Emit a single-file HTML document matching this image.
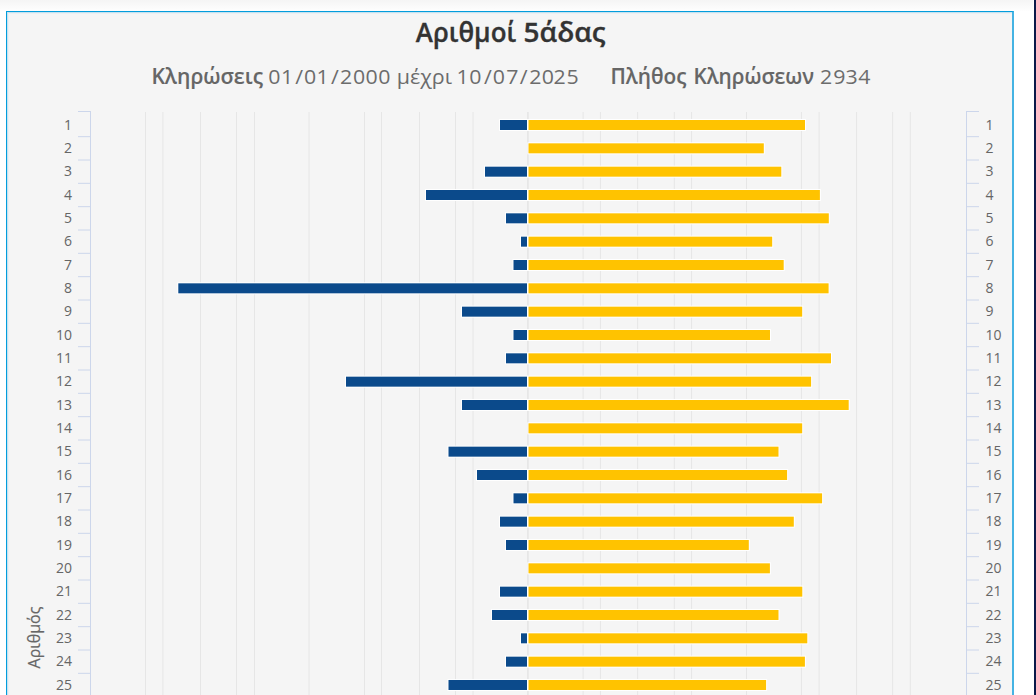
<!DOCTYPE html>
<html><head><meta charset="utf-8"><title>Αριθμοί 5άδας</title>
<style>
html,body{margin:0;padding:0;}
body{width:1036px;height:695px;overflow:hidden;background:#fff;position:relative;}
.topg{position:absolute;left:0;top:0;width:1033px;height:11px;background:linear-gradient(#f5f5f5,#fefefe);}
.navy{position:absolute;left:1034px;top:0;width:2px;height:695px;background:#0a1a4a;}
.box{position:absolute;left:6px;top:11px;width:1005px;height:700px;border:1px solid #029ddc;border-right:2px solid #45b3e3;border-bottom:0;background:#f5f5f5;box-shadow:inset 1px 1px 0 #c6e2f0,inset 2px 2px 0 #ebf0f3;}
</style></head>
<body>
<div class="topg"></div>
<div class="navy"></div>
<div class="box"></div>
<svg width="1036" height="695" viewBox="0 0 1036 695" style="position:absolute;left:0;top:0"><g stroke="#e6e6e6" stroke-width="1"><line x1="145.5" y1="112" x2="145.5" y2="700"/><line x1="162.9" y1="112" x2="162.9" y2="700"/><line x1="200.5" y1="112" x2="200.5" y2="700"/><line x1="236.5" y1="112" x2="236.5" y2="700"/><line x1="254.5" y1="112" x2="254.5" y2="700"/><line x1="309" y1="112" x2="309" y2="700"/><line x1="364.5" y1="112" x2="364.5" y2="700"/><line x1="381.5" y1="112" x2="381.5" y2="700"/><line x1="419.5" y1="112" x2="419.5" y2="700"/><line x1="455.5" y1="112" x2="455.5" y2="700"/><line x1="473" y1="112" x2="473" y2="700"/><line x1="583.1" y1="112" x2="583.1" y2="700"/><line x1="600.4" y1="112" x2="600.4" y2="700"/><line x1="637.7" y1="112" x2="637.7" y2="700"/><line x1="674.3" y1="112" x2="674.3" y2="700"/><line x1="691.6" y1="112" x2="691.6" y2="700"/><line x1="746.5" y1="112" x2="746.5" y2="700"/><line x1="801.4" y1="112" x2="801.4" y2="700"/><line x1="819.1" y1="112" x2="819.1" y2="700"/><line x1="856.6" y1="112" x2="856.6" y2="700"/><line x1="892.7" y1="112" x2="892.7" y2="700"/><line x1="910.3" y1="112" x2="910.3" y2="700"/><line x1="527.9" y1="112" x2="527.9" y2="700" stroke-width="1.6"/></g><g stroke="#ccd6eb" stroke-width="1"><line x1="90.5" y1="111" x2="90.5" y2="700"/><line x1="966.5" y1="111" x2="966.5" y2="700"/><line x1="78" y1="111.5" x2="90" y2="111.5"/><line x1="967" y1="111.5" x2="979" y2="111.5"/><line x1="78" y1="136.67" x2="90" y2="136.67"/><line x1="967" y1="136.67" x2="979" y2="136.67"/><line x1="78" y1="160.0" x2="90" y2="160.0"/><line x1="967" y1="160.0" x2="979" y2="160.0"/><line x1="78" y1="183.33" x2="90" y2="183.33"/><line x1="967" y1="183.33" x2="979" y2="183.33"/><line x1="78" y1="206.67" x2="90" y2="206.67"/><line x1="967" y1="206.67" x2="979" y2="206.67"/><line x1="78" y1="230.0" x2="90" y2="230.0"/><line x1="967" y1="230.0" x2="979" y2="230.0"/><line x1="78" y1="253.33" x2="90" y2="253.33"/><line x1="967" y1="253.33" x2="979" y2="253.33"/><line x1="78" y1="276.67" x2="90" y2="276.67"/><line x1="967" y1="276.67" x2="979" y2="276.67"/><line x1="78" y1="300.0" x2="90" y2="300.0"/><line x1="967" y1="300.0" x2="979" y2="300.0"/><line x1="78" y1="323.33" x2="90" y2="323.33"/><line x1="967" y1="323.33" x2="979" y2="323.33"/><line x1="78" y1="346.67" x2="90" y2="346.67"/><line x1="967" y1="346.67" x2="979" y2="346.67"/><line x1="78" y1="370.0" x2="90" y2="370.0"/><line x1="967" y1="370.0" x2="979" y2="370.0"/><line x1="78" y1="393.33" x2="90" y2="393.33"/><line x1="967" y1="393.33" x2="979" y2="393.33"/><line x1="78" y1="416.67" x2="90" y2="416.67"/><line x1="967" y1="416.67" x2="979" y2="416.67"/><line x1="78" y1="440.0" x2="90" y2="440.0"/><line x1="967" y1="440.0" x2="979" y2="440.0"/><line x1="78" y1="463.33" x2="90" y2="463.33"/><line x1="967" y1="463.33" x2="979" y2="463.33"/><line x1="78" y1="486.67" x2="90" y2="486.67"/><line x1="967" y1="486.67" x2="979" y2="486.67"/><line x1="78" y1="510.0" x2="90" y2="510.0"/><line x1="967" y1="510.0" x2="979" y2="510.0"/><line x1="78" y1="533.33" x2="90" y2="533.33"/><line x1="967" y1="533.33" x2="979" y2="533.33"/><line x1="78" y1="556.67" x2="90" y2="556.67"/><line x1="967" y1="556.67" x2="979" y2="556.67"/><line x1="78" y1="580.0" x2="90" y2="580.0"/><line x1="967" y1="580.0" x2="979" y2="580.0"/><line x1="78" y1="603.33" x2="90" y2="603.33"/><line x1="967" y1="603.33" x2="979" y2="603.33"/><line x1="78" y1="626.67" x2="90" y2="626.67"/><line x1="967" y1="626.67" x2="979" y2="626.67"/><line x1="78" y1="650.0" x2="90" y2="650.0"/><line x1="967" y1="650.0" x2="979" y2="650.0"/><line x1="78" y1="673.33" x2="90" y2="673.33"/><line x1="967" y1="673.33" x2="979" y2="673.33"/><line x1="78" y1="696.67" x2="90" y2="696.67"/><line x1="967" y1="696.67" x2="979" y2="696.67"/></g><rect x="499" y="119.0" width="29" height="12" fill="#fff"/><rect x="500" y="120.0" width="27" height="10" fill="#0b4a8b"/><rect x="527.5" y="119.0" width="278.5" height="12" fill="#fff"/><rect x="528.5" y="120.0" width="276.5" height="10" fill="#ffc300"/><rect x="527.5" y="142.33" width="237.29999999999995" height="12" fill="#fff"/><rect x="528.5" y="143.33" width="235.29999999999995" height="10" fill="#ffc300"/><rect x="484" y="165.67" width="44" height="12" fill="#fff"/><rect x="485" y="166.67" width="42" height="10" fill="#0b4a8b"/><rect x="527.5" y="165.67" width="254.79999999999995" height="12" fill="#fff"/><rect x="528.5" y="166.67" width="252.79999999999995" height="10" fill="#ffc300"/><rect x="425" y="189.0" width="103" height="12" fill="#fff"/><rect x="426" y="190.0" width="101" height="10" fill="#0b4a8b"/><rect x="527.5" y="189.0" width="293.4" height="12" fill="#fff"/><rect x="528.5" y="190.0" width="291.4" height="10" fill="#ffc300"/><rect x="505" y="212.33" width="23" height="12" fill="#fff"/><rect x="506" y="213.33" width="21" height="10" fill="#0b4a8b"/><rect x="527.5" y="212.33" width="302.29999999999995" height="12" fill="#fff"/><rect x="528.5" y="213.33" width="300.29999999999995" height="10" fill="#ffc300"/><rect x="520" y="235.66" width="8" height="12" fill="#fff"/><rect x="521" y="236.66" width="6" height="10" fill="#0b4a8b"/><rect x="527.5" y="235.66" width="245.70000000000005" height="12" fill="#fff"/><rect x="528.5" y="236.66" width="243.70000000000005" height="10" fill="#ffc300"/><rect x="512.5" y="259.0" width="15.5" height="12" fill="#fff"/><rect x="513.5" y="260.0" width="13.5" height="10" fill="#0b4a8b"/><rect x="527.5" y="259.0" width="257.20000000000005" height="12" fill="#fff"/><rect x="528.5" y="260.0" width="255.20000000000005" height="10" fill="#ffc300"/><rect x="177.3" y="282.33" width="350.7" height="12" fill="#fff"/><rect x="178.3" y="283.33" width="348.7" height="10" fill="#0b4a8b"/><rect x="527.5" y="282.33" width="302.1" height="12" fill="#fff"/><rect x="528.5" y="283.33" width="300.1" height="10" fill="#ffc300"/><rect x="461" y="305.66" width="67" height="12" fill="#fff"/><rect x="462" y="306.66" width="65" height="10" fill="#0b4a8b"/><rect x="527.5" y="305.66" width="275.70000000000005" height="12" fill="#fff"/><rect x="528.5" y="306.66" width="273.70000000000005" height="10" fill="#ffc300"/><rect x="512.5" y="329.0" width="15.5" height="12" fill="#fff"/><rect x="513.5" y="330.0" width="13.5" height="10" fill="#0b4a8b"/><rect x="527.5" y="329.0" width="243.5" height="12" fill="#fff"/><rect x="528.5" y="330.0" width="241.5" height="10" fill="#ffc300"/><rect x="505" y="352.33" width="23" height="12" fill="#fff"/><rect x="506" y="353.33" width="21" height="10" fill="#0b4a8b"/><rect x="527.5" y="352.33" width="304.5" height="12" fill="#fff"/><rect x="528.5" y="353.33" width="302.5" height="10" fill="#ffc300"/><rect x="345" y="375.66" width="183" height="12" fill="#fff"/><rect x="346" y="376.66" width="181" height="10" fill="#0b4a8b"/><rect x="527.5" y="375.66" width="284.6" height="12" fill="#fff"/><rect x="528.5" y="376.66" width="282.6" height="10" fill="#ffc300"/><rect x="461" y="399.0" width="67" height="12" fill="#fff"/><rect x="462" y="400.0" width="65" height="10" fill="#0b4a8b"/><rect x="527.5" y="399.0" width="322.20000000000005" height="12" fill="#fff"/><rect x="528.5" y="400.0" width="320.20000000000005" height="10" fill="#ffc300"/><rect x="527.5" y="422.33" width="275.70000000000005" height="12" fill="#fff"/><rect x="528.5" y="423.33" width="273.70000000000005" height="10" fill="#ffc300"/><rect x="447.5" y="445.66" width="80.5" height="12" fill="#fff"/><rect x="448.5" y="446.66" width="78.5" height="10" fill="#0b4a8b"/><rect x="527.5" y="445.66" width="252.0" height="12" fill="#fff"/><rect x="528.5" y="446.66" width="250.0" height="10" fill="#ffc300"/><rect x="476" y="469.0" width="52" height="12" fill="#fff"/><rect x="477" y="470.0" width="50" height="10" fill="#0b4a8b"/><rect x="527.5" y="469.0" width="260.6" height="12" fill="#fff"/><rect x="528.5" y="470.0" width="258.6" height="10" fill="#ffc300"/><rect x="512.5" y="492.33" width="15.5" height="12" fill="#fff"/><rect x="513.5" y="493.33" width="13.5" height="10" fill="#0b4a8b"/><rect x="527.5" y="492.33" width="295.6" height="12" fill="#fff"/><rect x="528.5" y="493.33" width="293.6" height="10" fill="#ffc300"/><rect x="499" y="515.66" width="29" height="12" fill="#fff"/><rect x="500" y="516.66" width="27" height="10" fill="#0b4a8b"/><rect x="527.5" y="515.66" width="267.29999999999995" height="12" fill="#fff"/><rect x="528.5" y="516.66" width="265.29999999999995" height="10" fill="#ffc300"/><rect x="505" y="538.99" width="23" height="12" fill="#fff"/><rect x="506" y="539.99" width="21" height="10" fill="#0b4a8b"/><rect x="527.5" y="538.99" width="222.29999999999995" height="12" fill="#fff"/><rect x="528.5" y="539.99" width="220.29999999999995" height="10" fill="#ffc300"/><rect x="527.5" y="562.33" width="243.39999999999998" height="12" fill="#fff"/><rect x="528.5" y="563.33" width="241.39999999999998" height="10" fill="#ffc300"/><rect x="499" y="585.66" width="29" height="12" fill="#fff"/><rect x="500" y="586.66" width="27" height="10" fill="#0b4a8b"/><rect x="527.5" y="585.66" width="275.79999999999995" height="12" fill="#fff"/><rect x="528.5" y="586.66" width="273.79999999999995" height="10" fill="#ffc300"/><rect x="491" y="608.99" width="37" height="12" fill="#fff"/><rect x="492" y="609.99" width="35" height="10" fill="#0b4a8b"/><rect x="527.5" y="608.99" width="252.0" height="12" fill="#fff"/><rect x="528.5" y="609.99" width="250.0" height="10" fill="#ffc300"/><rect x="520" y="632.33" width="8" height="12" fill="#fff"/><rect x="521" y="633.33" width="6" height="10" fill="#0b4a8b"/><rect x="527.5" y="632.33" width="280.79999999999995" height="12" fill="#fff"/><rect x="528.5" y="633.33" width="278.79999999999995" height="10" fill="#ffc300"/><rect x="505" y="655.66" width="23" height="12" fill="#fff"/><rect x="506" y="656.66" width="21" height="10" fill="#0b4a8b"/><rect x="527.5" y="655.66" width="278.4" height="12" fill="#fff"/><rect x="528.5" y="656.66" width="276.4" height="10" fill="#ffc300"/><rect x="447.5" y="678.99" width="80.5" height="12" fill="#fff"/><rect x="448.5" y="679.99" width="78.5" height="10" fill="#0b4a8b"/><rect x="527.5" y="678.99" width="239.60000000000002" height="12" fill="#fff"/><rect x="528.5" y="679.99" width="237.60000000000002" height="10" fill="#ffc300"/><g font-family="'Open Sans','Liberation Sans',sans-serif" font-size="14" fill="#666"><text x="72.1" y="129.6" text-anchor="end">1</text><text x="985.5" y="129.6">1</text><text x="72.1" y="152.93" text-anchor="end">2</text><text x="985.5" y="152.93">2</text><text x="72.1" y="176.27" text-anchor="end">3</text><text x="985.5" y="176.27">3</text><text x="72.1" y="199.6" text-anchor="end">4</text><text x="985.5" y="199.6">4</text><text x="72.1" y="222.93" text-anchor="end">5</text><text x="985.5" y="222.93">5</text><text x="72.1" y="246.26" text-anchor="end">6</text><text x="985.5" y="246.26">6</text><text x="72.1" y="269.6" text-anchor="end">7</text><text x="985.5" y="269.6">7</text><text x="72.1" y="292.93" text-anchor="end">8</text><text x="985.5" y="292.93">8</text><text x="72.1" y="316.26" text-anchor="end">9</text><text x="985.5" y="316.26">9</text><text x="72.1" y="339.6" text-anchor="end">10</text><text x="985.5" y="339.6">10</text><text x="72.1" y="362.93" text-anchor="end">11</text><text x="985.5" y="362.93">11</text><text x="72.1" y="386.26" text-anchor="end">12</text><text x="985.5" y="386.26">12</text><text x="72.1" y="409.6" text-anchor="end">13</text><text x="985.5" y="409.6">13</text><text x="72.1" y="432.93" text-anchor="end">14</text><text x="985.5" y="432.93">14</text><text x="72.1" y="456.26" text-anchor="end">15</text><text x="985.5" y="456.26">15</text><text x="72.1" y="479.6" text-anchor="end">16</text><text x="985.5" y="479.6">16</text><text x="72.1" y="502.93" text-anchor="end">17</text><text x="985.5" y="502.93">17</text><text x="72.1" y="526.26" text-anchor="end">18</text><text x="985.5" y="526.26">18</text><text x="72.1" y="549.59" text-anchor="end">19</text><text x="985.5" y="549.59">19</text><text x="72.1" y="572.93" text-anchor="end">20</text><text x="985.5" y="572.93">20</text><text x="72.1" y="596.26" text-anchor="end">21</text><text x="985.5" y="596.26">21</text><text x="72.1" y="619.59" text-anchor="end">22</text><text x="985.5" y="619.59">22</text><text x="72.1" y="642.93" text-anchor="end">23</text><text x="985.5" y="642.93">23</text><text x="72.1" y="666.26" text-anchor="end">24</text><text x="985.5" y="666.26">24</text><text x="72.1" y="689.59" text-anchor="end">25</text><text x="985.5" y="689.59">25</text></g><text transform="translate(40,637.5) rotate(-90)" text-anchor="middle" font-family="'Open Sans','Liberation Sans',sans-serif" font-size="16" fill="#666" stroke="#666" stroke-width="0.2">Αριθμός</text><text y="42.4" font-family="'Open Sans','Liberation Sans',sans-serif" font-weight="600" font-size="27" fill="#333" stroke="#333" stroke-width="0.3"><tspan x="415.8" textLength="100.4" lengthAdjust="spacingAndGlyphs">Αριθμοί</tspan> <tspan x="523.6" textLength="82" lengthAdjust="spacingAndGlyphs">5άδας</tspan></text><g font-family="'Open Sans','Liberation Sans',sans-serif" font-size="19.75" fill="#6c6c6c"><text x="151.4" y="84" font-weight="600" font-size="21.3" fill="#666" stroke="#666" stroke-width="0.1" textLength="111.6" lengthAdjust="spacingAndGlyphs">Κληρώσεις</text><text x="610.5" y="84" font-weight="600" font-size="21.3" fill="#666" stroke="#666" stroke-width="0.1" textLength="76.0" lengthAdjust="spacingAndGlyphs">Πλήθος</text><text x="693.4" y="84" font-weight="600" font-size="21.3" fill="#666" stroke="#666" stroke-width="0.1" textLength="120.7" lengthAdjust="spacingAndGlyphs">Κληρώσεων</text><text x="396.7" y="84" textLength="55.3" lengthAdjust="spacingAndGlyphs">μέχρι</text><text transform="scale(1.08,1)" x="254.07 265.74 277.04 287.22 298.8 310.19 320.46 332.5 344.07 355.83" y="84" text-anchor="middle">01/01/2000</text><text transform="scale(1.08,1)" x="428.24 440.19 451.85 461.94 474.44 484.91 495.65 507.31 518.06 530.19" y="84" text-anchor="middle">10/07/2025</text><text transform="scale(1.08,1)" x="764.91 777.13 788.52 800.28" y="84" text-anchor="middle">2934</text></g></svg>
</body></html>
